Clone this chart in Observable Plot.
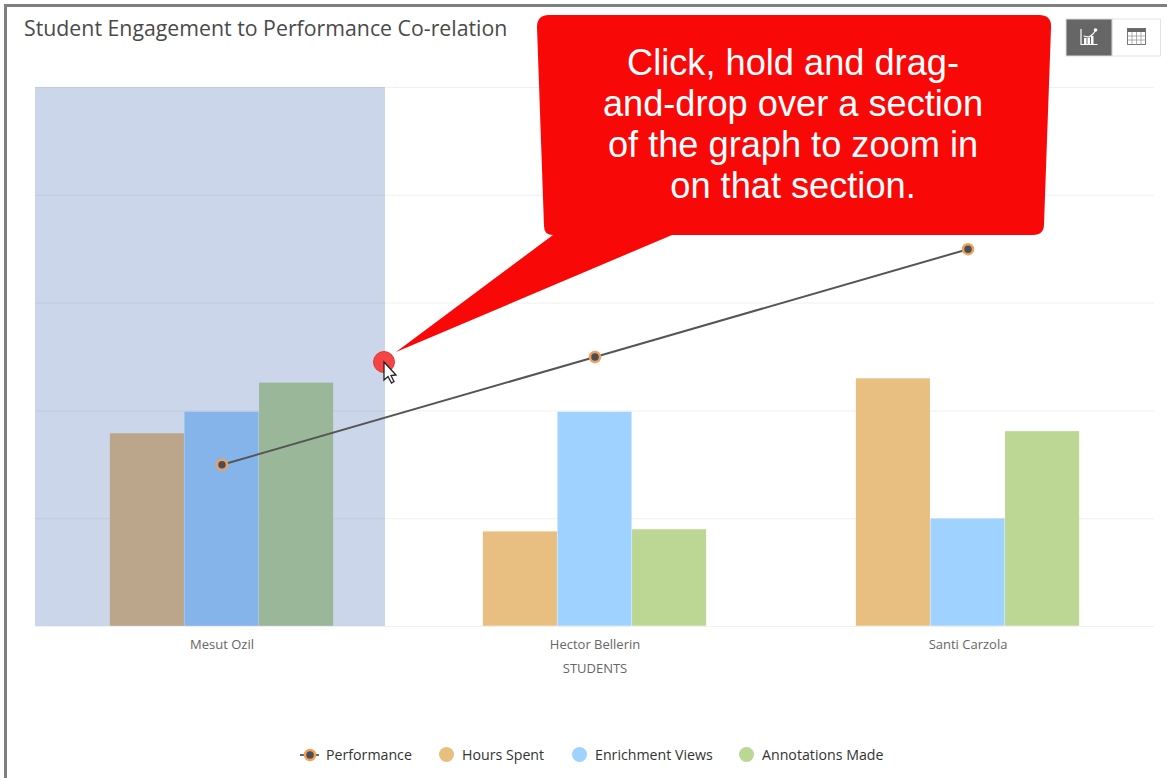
<!DOCTYPE html>
<html>
<head>
<meta charset="utf-8">
<script src="https://cdn.jsdelivr.net/npm/d3@7"></script>
<script src="https://cdn.jsdelivr.net/npm/@observablehq/plot@0.6"></script>
<style>
html,body{margin:0;padding:0;background:#fff;overflow:hidden}
#page{position:relative;width:1167px;height:778px;overflow:hidden;font-family:"Open Sans",sans-serif}
#page svg.plot{position:absolute;left:0;top:0}
#border{position:absolute;left:4px;top:4px;width:1170px;height:790px;border:3px solid #7f7f7f;box-sizing:border-box}
#title{position:absolute;left:24px;top:13px;font-size:21.3px;line-height:30px;color:#4a4a4a;white-space:nowrap}
#legend div{position:absolute;top:745px;font-size:14.2px;line-height:20px;color:#333;white-space:nowrap}
#legend i{position:absolute;top:747px;width:15px;height:15px;border-radius:50%}
#overlay{position:absolute;left:0;top:0;pointer-events:none}
</style>
</head>
<body>
<div id="page">
<div id="chart"></div>
<div id="border"></div>
<div id="title">Student Engagement to Performance Co-relation</div>
<svg id="overlay" width="1167" height="778" viewBox="0 0 1167 778">
  <path d="M549 15H1039Q1052 15 1051 28L1044 224Q1044 235 1033 235H672L396 352L553 235H553Q544 235 544 226L537 27Q537 15 549 15Z" fill="#f90808"/>
  <g font-family="Liberation Sans, Arial, sans-serif" font-size="36.200" fill="#fff" text-anchor="middle">
    <text x="793" y="75">Click, hold and drag-</text>
    <text x="793" y="116">and-drop over a section</text>
    <text x="793" y="157">of the graph to zoom in</text>
    <text x="793" y="198">on that section.</text>
  </g>
  <circle cx="384" cy="362" r="10.500" fill="#f54444" stroke="#e23a3a"/>
  <path d="M384 362V380L388 376.500L391.500 383L394 381.500L391 375.500L396 375Z" fill="#fff" stroke="#222" stroke-width="1.300"/>
  <rect x="1066" y="19" width="46" height="37" fill="#666" stroke="#ddd"/>
  <rect x="1112.500" y="19" width="48" height="37" fill="#fff" stroke="#e3e3e3"/>
  <g fill="none" stroke="#fff" stroke-width="1.200">
    <path d="M1081 29V44.500H1097.500"/>
    <path d="M1083.500 36L1089 37L1093 34L1096 30"/>
  </g>
  <g fill="#fff"><rect x="1084" y="38" width="2.500" height="6"/><rect x="1087.500" y="38" width="2.500" height="6"/><rect x="1091" y="36" width="2.500" height="8"/><circle cx="1095.500" cy="30" r="1.800"/></g>
  <rect x="1127.500" y="28.500" width="18" height="16" fill="#fff" stroke="#777"/>
  <rect x="1127.500" y="28.500" width="18" height="3.500" fill="#666"/>
  <path d="M1127.500 36H1145.500M1127.500 40H1145.500M1132 32V44.500M1136.500 32V44.500M1141 32V44.500" stroke="#999" stroke-width=".8"/>
</svg>
<div id="legend">
  <svg style="position:absolute;left:298px;top:745px" width="24" height="20"><path d="M2 10H21" stroke="#666" stroke-width="2"/><circle cx="12" cy="10" r="5" fill="#47505a" stroke="#f5a050" stroke-width="2.500"/></svg>
  <div style="left:326px">Performance</div>
  <i style="left:439px;background:#e8bf80"></i><div style="left:462px">Hours Spent</div>
  <i style="left:572px;background:#9fd2ff"></i><div style="left:595px">Enrichment Views</div>
  <i style="left:739px;background:#bcd793"></i><div style="left:762px">Annotations Made</div>
</div>
</div>
<script>
const students = ["Mesut Ozil", "Hector Bellerin", "Santi Carzola"];
const hoursSpent = [1.79, 0.88, 2.30];
const enrichmentViews = [1.99, 1.99, 1.00];
const annotationsMade = [2.26, 0.90, 1.81];
const performance_ = [1.50, 2.50, 3.50];
const seriesNames = ["Hours Spent", "Enrichment Views", "Annotations Made"];
const seriesValues = [hoursSpent, enrichmentViews, annotationsMade];
const seriesColors = ["#e8bf80", "#9fd2ff", "#bcd793"];
const selectionFraction = 0.3128;

// five equal slots per student: gap, three bars, gap
const slot = (s, i) => s + "|" + i;
const slots = students.flatMap(s => [0, 1, 2, 3, 4].map(i => slot(s, i)));
const bars = students.flatMap((s, si) => seriesNames.map((n, k) => ({
  slot: slot(s, k + 1), series: n, value: seriesValues[k][si]
})));
const perf = students.map((s, si) => ({slot: slot(s, 2), value: performance_[si]}));

const selection = (index, scales, values, dims) => d3.create("svg:rect")
  .attr("x", dims.marginLeft)
  .attr("y", dims.marginTop)
  .attr("width", (dims.width - dims.marginLeft - dims.marginRight) * selectionFraction)
  .attr("height", dims.height - dims.marginTop - dims.marginBottom)
  .attr("fill", "#335cad").attr("fill-opacity", 0.25).node();

const chart = Plot.plot({
  width: 1167, height: 778,
  marginLeft: 35, marginRight: 13, marginTop: 87, marginBottom: 152,
  style: {background: "transparent", fontFamily: "'Open Sans', sans-serif"},
  x: {type: "band", domain: slots, padding: 0, round: false, range: [35, 1154]},
  y: {domain: [0, 5], range: [626, 87]},
  color: {domain: seriesNames, range: seriesColors},
  marks: [
    Plot.gridY([0, 1, 2, 3, 4, 5], {stroke: "#f0f0f0", strokeOpacity: 1}),
    Plot.barY(bars, {x: "slot", y: "value", fill: "series", inset: 0.25}),
    selection,
    Plot.axisX(students.map(s => slot(s, 2)), {
      tickSize: 0, tickPadding: 13, fontSize: 13, fill: "#666",
      tickFormat: d => d.split("|")[0],
      label: "STUDENTS", labelAnchor: "center", labelArrow: "none", labelOffset: 46
    }),
    Plot.axisY({ticks: [], label: null}),
    Plot.line(perf, {x: "slot", y: "value", stroke: "#555", strokeWidth: 2}),
    Plot.dot(perf, {x: "slot", y: "value", r: 5, fill: "#47505a", stroke: "#ef9f5a", strokeWidth: 2.500})
  ]
});
chart.classList.add("plot");
document.getElementById("chart").appendChild(chart);
</script>
</body>
</html>
